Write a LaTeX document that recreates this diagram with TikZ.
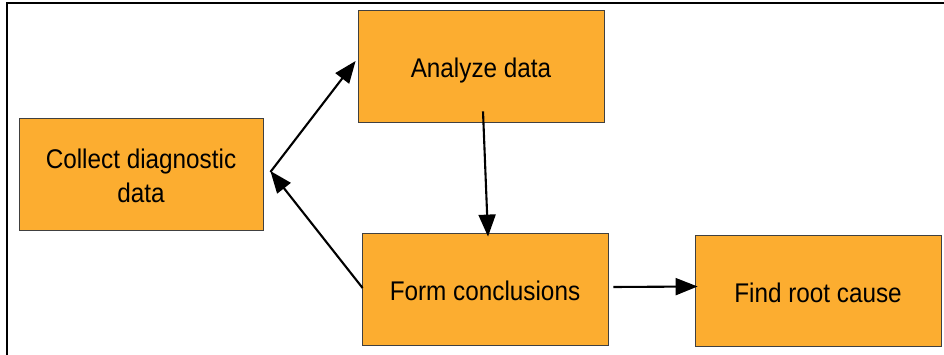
\documentclass[tikz,border=0pt]{standalone}
\usepackage{fontspec}
\setmainfont{Liberation Sans}[FakeStretch=0.9]
\usepackage{tikz}
\usetikzlibrary{arrows.meta}

\definecolor{boxorange}{RGB}{252,173,48}

\begin{document}
\begin{tikzpicture}[x=1pt, y=-1pt,
    stepbox/.style={draw=black!75, line width=0.8pt, fill=boxorange,
        minimum width=246pt, minimum height=112pt, inner sep=0pt,
        text height=23.4pt, text depth=0pt,
        align=center, font=\fontsize{27}{34.4}\selectfont},
    flow/.style={line width=2.1pt, -{Triangle[length=22pt, width=17pt]}}]
    \useasboundingbox (0,0) rectangle (944,355);
    \draw [line width=1.5pt] (7,355) -- (7,3) -- (944,3);

    \node [stepbox, minimum width=244pt, text height=57.8pt] (collect) at (141,174) {Collect diagnostic\\data};
    \node [stepbox] (analyze) at (481,66)  {Analyze data};
    \node [stepbox] (form)    at (485,289) {Form conclusions};
    \node [stepbox, minimum height=111pt] (cause) at (818,290.5) {Find root cause};

    % Now draw the arrows:
    \draw [flow] ([xshift=7pt, yshift=2pt]collect.east) -- ([xshift=-2pt, yshift=5pt]analyze.west);
    \draw [flow] ([xshift=1pt, yshift=1pt]form.west) -- ([xshift=7pt, yshift=3pt]collect.east);
    \draw [flow] ([xshift=2pt, yshift=11pt]analyze.south) -- ([xshift=3pt, yshift=-4pt]form.north);
    \draw [flow] ([xshift=5pt, yshift=2pt]form.east) -- ([xshift=3pt, yshift=4pt]cause.west);
\end{tikzpicture}
\end{document}
